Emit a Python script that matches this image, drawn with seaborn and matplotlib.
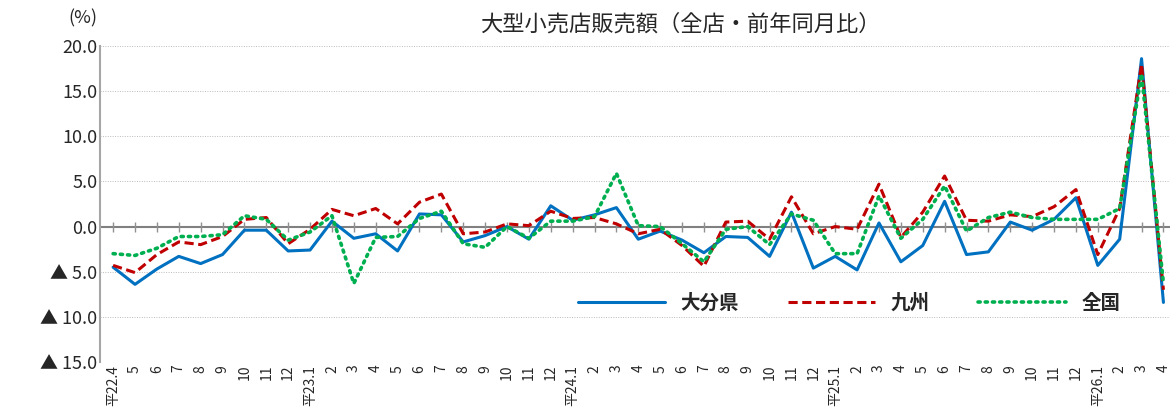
import numpy as np
import pandas as pd
import matplotlib
matplotlib.use("Agg")
import matplotlib.pyplot as plt
import seaborn as sns

# months 22.4 .. 26.4
labels = ["平22.4", "5", "6", "7", "8", "9", "10", "11", "12",
          "平23.1", "2", "3", "4", "5", "6", "7", "8", "9", "10", "11", "12",
          "平24.1", "2", "3", "4", "5", "6", "7", "8", "9", "10", "11", "12",
          "平25.1", "2", "3", "4", "5", "6", "7", "8", "9", "10", "11", "12",
          "平26.1", "2", "3", "4"]

oita = [-4.5, -6.4, -4.7, -3.3, -4.1, -3.1, -0.4, -0.4, -2.7, -2.6, 0.6, -1.3, -0.8,
        -2.7, 1.4, 1.3, -1.7, -1.0, 0.0, -1.4, 2.3, 0.7, 1.3, 2.1, -1.4, -0.5, -1.5,
        -2.9, -1.1, -1.2, -3.3, 1.6, -4.6, -3.3, -4.8, 0.4, -3.9, -2.1, 2.8, -3.1,
        -2.8, 0.5, -0.4, 0.8, 3.2, -4.3, -1.4, 18.6, -8.4]
kyushu = [-4.3, -5.1, -3.1, -1.7, -2.0, -1.1, 0.8, 1.0, -1.9, -0.3, 1.9, 1.2, 2.0,
          0.3, 2.7, 3.6, -0.8, -0.6, 0.3, 0.1, 1.7, 0.9, 1.0, 0.3, -0.8, -0.3, -2.1,
          -4.4, 0.5, 0.6, -1.4, 3.3, -0.8, 0.0, -0.3, 4.7, -1.2, 1.6, 5.6, 0.7,
          0.6, 1.3, 1.1, 2.2, 4.1, -3.1, 2.0, 18.0, -7.0]
zenkoku = [-3.0, -3.2, -2.4, -1.1, -1.1, -0.9, 1.2, 0.8, -1.5, -0.6, 1.2, -6.3, -1.2,
           -1.1, 0.9, 1.7, -1.9, -2.3, 0.0, -1.3, 0.6, 0.6, 1.1, 5.9, 0.1, 0.0, -1.9,
           -3.9, -0.3, 0.0, -2.0, 1.4, 0.7, -3.0, -3.0, 3.4, -1.3, 0.8, 4.5, -0.5,
           1.0, 1.6, 1.0, 0.8, 0.8, 0.8, 2.0, 16.9, -6.3]

sns.set_style("white")
plt.rcParams['font.family'] = ['Noto Sans CJK JP', 'DejaVu Sans']

x = np.arange(len(labels))
fig = plt.figure(figsize=(11.72, 4.08), dpi=100)
ax = fig.add_axes([100 / 1172, 46 / 408, 1070 / 1172, 316 / 408])

sns.lineplot(x=x, y=oita, ax=ax, color="#0070C0", lw=2.2, label="大分県")
sns.lineplot(x=x, y=kyushu, ax=ax, color="#C00000", lw=2.2, linestyle=(0, (3, 1.5)), label="九州")
sns.lineplot(x=x, y=zenkoku, ax=ax, color="#00B050", lw=2.6, linestyle=(0, (0.6, 1.4)),
             dash_capstyle="round", label="全国")

ax.set_ylim(-15, 20)
ax.set_xlim(-0.6, len(labels) - 0.7)
yt = np.arange(-15, 21, 5)
ax.set_yticks(yt)
ax.set_yticklabels([f"{v:.1f}" if v >= 0 else f"▲ {abs(v):.1f}" for v in yt], fontsize=13)
ax.set_xticks(x)
ax.set_xticklabels(labels, rotation=90, fontsize=10)
ax.tick_params(axis="both", length=0, pad=2)

for v in yt:
    if v != 0:
        ax.axhline(v, color="#BBBBBB", lw=0.7, ls=(0, (1, 1.5)), zorder=0)
ax.axhline(0, color="#808080", lw=1.5, zorder=1)
ax.plot(x, np.zeros(len(x)), ls="none", marker="|", ms=7, color="#909090", mew=1.0, zorder=1)

for s in ["top", "right", "bottom"]:
    ax.spines[s].set_visible(False)
ax.spines["left"].set_color("#A6A6A6")
ax.spines["left"].set_linewidth(1.5)

leg = ax.legend(loc="lower right", bbox_to_anchor=(0.97, 0.1), ncol=3, frameon=False,
                fontsize=14, handlelength=4.5, columnspacing=2.5)
for t in leg.get_texts():
    t.set_fontweight("bold")
fig.text(68 / 1172, 1 - 18 / 408, "(%)", fontsize=13, va="center")
fig.text(680 / 1172, 1 - 24 / 408, "大型小売店販売額（全店・前年同月比）", fontsize=16,
         ha="center", va="center")

fig.savefig("out.png", dpi=100)
